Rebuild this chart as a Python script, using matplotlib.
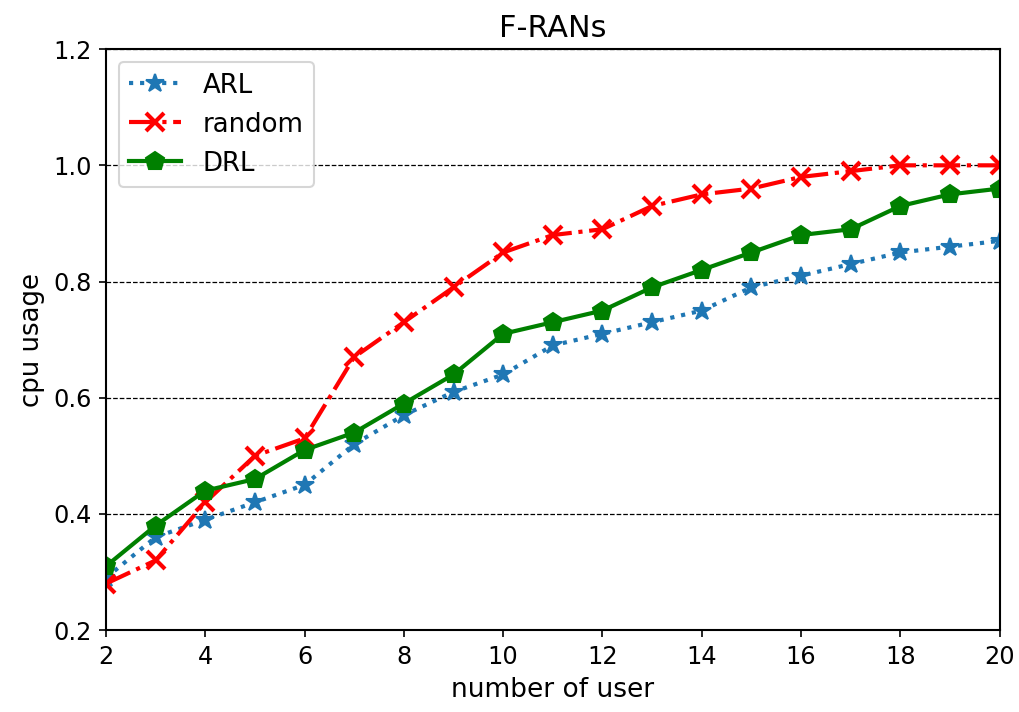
import matplotlib
matplotlib.use("Agg")
import matplotlib.pyplot as plt

users = [2, 3, 4, 5, 6, 7, 8, 9, 10, 11, 12, 13, 14, 15, 16, 17, 18, 19, 20]
arl = [0.29, 0.36, 0.39, 0.42, 0.45, 0.52, 0.57, 0.61, 0.64, 0.69,
       0.71, 0.73, 0.75, 0.79, 0.81, 0.83, 0.85, 0.86, 0.87]
rnd = [0.28, 0.32, 0.42, 0.50, 0.53, 0.67, 0.73, 0.79, 0.85, 0.88,
       0.89, 0.93, 0.95, 0.96, 0.98, 0.99, 1.00, 1.00, 1.00]
drl = [0.31, 0.38, 0.44, 0.46, 0.51, 0.54, 0.59, 0.64, 0.71, 0.73,
       0.75, 0.79, 0.82, 0.85, 0.88, 0.89, 0.93, 0.95, 0.96]

plt.rcParams["axes.linewidth"] = 1.0

fig = plt.figure(figsize=(1019 / 150, 712 / 150), dpi=150)
ax = fig.add_axes([0.104, 0.115, 0.877, 0.816])

ax.plot(users, arl, linestyle=":", marker="*", color="#1f77b4", linewidth=2,
        markersize=9, label="ARL")
ax.plot(users, rnd, linestyle="-.", marker="x", color="red", linewidth=2,
        markersize=9, markeredgewidth=2, label="random")
ax.plot(users, drl, linestyle="-", marker="p", color="green", linewidth=2,
        markersize=9, label="DRL")

ax.set_xlim(2, 20)
ax.set_ylim(0.2, 1.2)
ax.set_xticks(range(2, 21, 2))
ax.set_yticks([0.2, 0.4, 0.6, 0.8, 1.0, 1.2])
ax.tick_params(labelsize=11.5)
ax.grid(True, axis="y", linestyle="--", color="black", linewidth=0.6)
ax.set_xlabel("number of user", fontsize=12.7)
ax.set_ylabel("cpu usage", fontsize=12.5)
ax.set_title("F-RANs", fontsize=14.5)
ax.legend(loc="upper left", fontsize=12.5)

fig.savefig("out.png", dpi=150)
